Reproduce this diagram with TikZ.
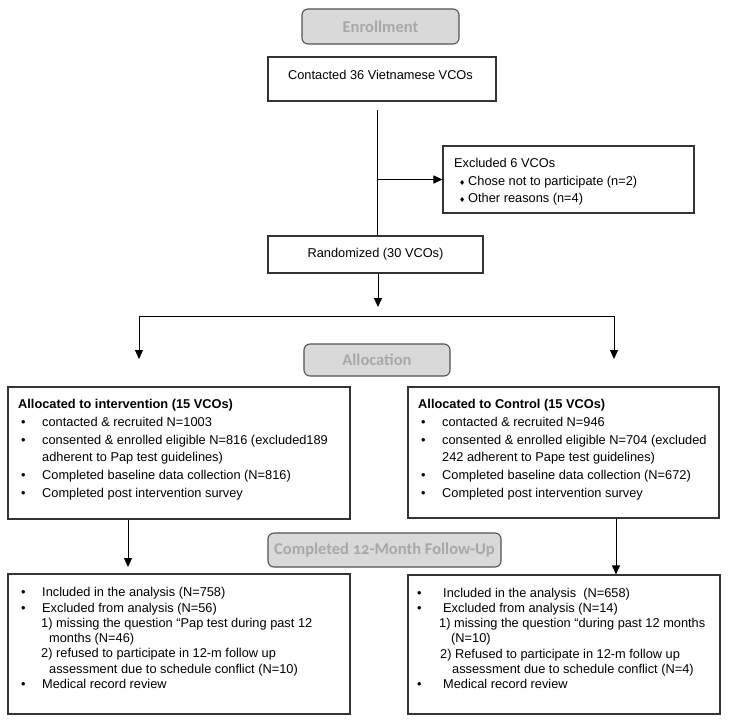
\documentclass[tikz,border=0pt]{standalone}
\usepackage{fontspec}
\setmainfont{Liberation Sans}
\newfontfamily\stagefont[Numbers=OldStyle]{Carlito}
\newfontfamily\symfont{DejaVu Sans}
\usetikzlibrary{arrows.meta}
\definecolor{stagegray}{RGB}{217, 217, 217}
\definecolor{stagetext}{RGB}{168, 168, 168}
\definecolor{boxline}{RGB}{51, 51, 51}
\newcommand{\bul}[1][24pt]{\makebox[#1][l]{\hspace{3pt}\textbullet}}
\newcommand{\dia}{\makebox[9pt][l]{\symfont\fontsize{7}{7}\selectfont ♦}}

\begin{document}
\begin{tikzpicture}[
    x=1pt, y=-1pt,
    body/.style={font=\fontsize{12.8}{17.7}\selectfont},
    frame/.style={rectangle, draw=boxline, line width=1.1pt, fill=white, inner sep=0pt, body},
    stage/.style={rectangle, rounded corners=6pt, draw=boxline!85, line width=1.1pt, fill=stagegray, text=stagetext, inner sep=0pt, font=\stagefont\bfseries\fontsize{16.5}{19}\selectfont},
    plain/.style={inner sep=0pt, body},
    itemtext/.style={anchor=north west, align=left, inner sep=0pt, body},
    tight/.style={font=\fontsize{12.8}{15.3}\selectfont},
    link/.style={line width=1pt},
    arrow/.style={-{Triangle[length=9pt, width=8pt]}, line width=1pt}
]

% Background
\fill[white] (0,0) rectangle (729,724);
\useasboundingbox (0,0) rectangle (729,724);

% Stage labels
\node[stage, minimum width=157pt, minimum height=35pt] (enroll) at (380.5,26.5) {Enrollment};
\node[stage, minimum width=146pt, minimum height=32pt] (allocate) at (377,360) {Allocation};
\node[stage, minimum width=233pt, minimum height=34pt] (follow) at (384.5,550) {Completed 12-Month Follow-Up};

% Enrollment
\node[frame, minimum width=228pt, minimum height=44pt] (contact) at (382,79) {};
\node[plain] (contacttxt) at (380.5,75) {Contacted 36 Vietnamese VCOs};
\node[frame, minimum width=251pt, minimum height=67pt] (excl) at (568.5,179.5) {};
\node[itemtext, font=\fontsize{12.8}{17.5}\selectfont] (excltxt) at (454,158.3) {Excluded 6 VCOs\\
\hspace*{5pt}\dia Chose not to participate (n=2)\\
\hspace*{5pt}\dia Other reasons (n=4)};
\node[frame, minimum width=215pt, minimum height=37pt] (random) at (375.5,254.5) {Randomized (30 VCOs)};

% Enrollment connections
\coordinate (split) at (377,110);
\draw[link] (split) -- (split |- random.north);
\draw[arrow] (split |- excl.west) -- (excl.west);
\coordinate (randend) at (378,307);
\draw[arrow] (randend |- random.south) -- (randend);

% Split into the two arms
\coordinate (forkL) at (139,316);
\coordinate (forkR) at (614,316);
\coordinate (armL) at (139,359);
\coordinate (armR) at (614,359);
\draw[arrow] (forkR) -- (forkL) -- (armL);
\draw[arrow] (forkR) -- (armR);

% Allocation
\node[frame, minimum width=342pt, minimum height=132pt] (interv) at (179,453) {};
\node[itemtext] (intervtxt) at (18,399.3) {\textbf{Allocated to intervention (15 VCOs)}\\
\bul contacted \& recruited N=1003\\
\bul consented \& enrolled eligible N=816 (excluded189\\
\hspace*{24pt}adherent to Pap test guidelines)\\
\bul Completed baseline data collection (N=816)\\
\bul Completed post intervention survey};
\node[frame, minimum width=311pt, minimum height=131pt] (control) at (563.5,452.5) {};
\node[itemtext] (controltxt) at (418,399.3) {\textbf{Allocated to Control (15 VCOs)}\\
\bul contacted \& recruited N=946\\
\bul consented \& enrolled eligible N=704 (excluded\\
\hspace*{24pt}242 adherent to Pape test guidelines)\\
\bul Completed baseline data collection (N=672)\\
\bul Completed post intervention survey};

% Follow-up
\node[frame, minimum width=342pt, minimum height=140pt] (analysisL) at (179,644) {};
\node[itemtext, tight] (analysisLtxt) at (18,587.3) {\bul Included in the analysis (N=758)\\
\bul Excluded from analysis (N=56)\\
\hspace*{23pt}1) missing the question “Pap test during past 12\\
\hspace*{31pt}months (N=46)\\
\hspace*{23pt}2) refused to participate in 12-m follow up\\
\hspace*{31pt}assessment due to schedule conflict (N=10)\\
\bul Medical record review};
\node[frame, minimum width=312pt, minimum height=139pt] (analysisR) at (564,644.5) {};
\node[itemtext, tight] (analysisRtxt) at (414,587.6) {\bul[29pt]Included in the analysis\ \ (N=658)\\
\bul[29pt]Excluded from analysis (N=14)\\
\hspace*{25pt}1) missing the question “during past 12 months\\
\hspace*{37pt}(N=10)\\
\hspace*{26pt}2) Refused to participate in 12-m follow up\\
\hspace*{38pt}assessment due to schedule conflict (N=4)\\
\bul[29pt]Medical record review};

% Follow-up connections
\coordinate (downL) at (128,567);
\coordinate (downR) at (616,0);
\draw[arrow] (downL |- interv.south) -- (downL);
\draw[arrow] (downR |- control.south) -- (downR |- analysisR.north);

\end{tikzpicture}
\end{document}
